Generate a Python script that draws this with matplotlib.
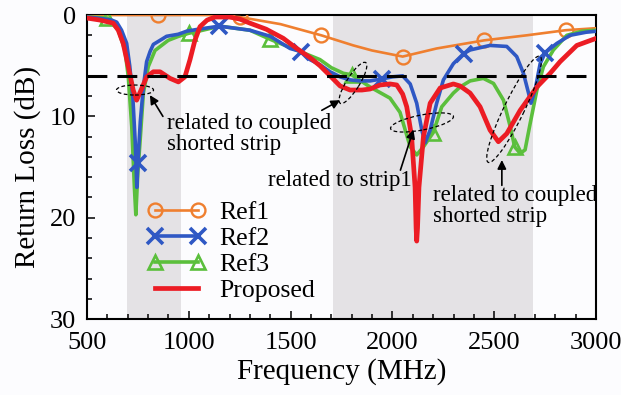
import numpy as np
import matplotlib
matplotlib.use("Agg")
import matplotlib.pyplot as plt
import matplotlib.transforms as mtransforms
from matplotlib.patches import Ellipse
from matplotlib.ticker import MultipleLocator

plt.rcParams['font.family'] = ['Liberation Serif', 'DejaVu Serif']

# ---------------- data ----------------
ref1_f = [500, 850, 1100, 1250, 1450, 1650, 1808, 1900, 2050, 2217, 2450, 2660, 2850, 3000]
ref1_db = [0.0, 0.0, 0.0, 0.2, 0.9, 2.0, 3.0, 3.5, 4.1, 3.3, 2.5, 2.0, 1.5, 1.3]
ref1_mk = [850, 1250, 1650, 2050, 2450, 2850]

ref2_f = [500, 564, 621, 646, 670, 695, 710, 725, 737, 745, 750, 762, 777, 793, 810, 826, 867, 891,
          948, 989, 1047, 1150, 1300, 1400, 1497, 1550, 1595, 1644, 1694, 1743, 1792, 1841, 1890,
          1950, 2000, 2050, 2087, 2119, 2144, 2160, 2185, 2217, 2250, 2299, 2350, 2381, 2479, 2561,
          2610, 2643, 2668, 2680, 2700, 2725, 2750, 2807, 2872, 2950, 3000]
ref2_db = [0.2, 0.33, 0.5, 0.7, 1.5, 2.8, 5.0, 8.0, 12.5, 17.0, 14.6, 10.5, 7.1, 4.6, 3.6, 2.9, 2.4, 2.1,
           1.9, 1.6, 1.4, 1.1, 1.5, 2.1, 3.3, 3.6, 4.4, 4.9, 5.6, 6.1, 6.4, 6.5, 6.5,
           6.3, 6.1, 6.0, 6.8, 8.7, 11.35, 12.6, 11.35, 8.7, 6.4, 4.8, 3.8, 3.45, 3.0, 3.1,
           4.1, 5.75, 7.7, 8.7, 7.4, 4.8, 3.7, 2.8, 2.0, 1.7, 1.6]
ref2_mk = [750, 1150, 1550, 1950, 2350, 2750]

ref3_f = [500, 560, 600, 654, 687, 703, 720, 733, 740, 750, 760, 777, 801, 834, 899, 950, 1000, 1047,
          1153, 1300, 1400, 1497, 1546, 1644, 1700, 1759, 1800, 1890, 1988, 2037, 2087, 2119, 2152,
          2200, 2242, 2299, 2332, 2381, 2446, 2496, 2545, 2578, 2600, 2627, 2651, 2676, 2709, 2741,
          2790, 2856, 2930, 3000]
ref3_db = [0.2, 0.25, 0.3, 1.5, 3.5, 6.1, 11.0, 17.0, 19.7, 15.5, 12.7, 7.7, 5.1, 3.5, 2.5, 2.1, 1.8, 1.6,
           1.1, 1.5, 2.4, 3.2, 3.6, 4.4, 5.2, 5.75, 5.9, 7.1, 8.2, 9.6, 13.0, 13.8, 13.0,
           11.6, 9.05, 7.7, 7.1, 6.5, 6.25, 6.75, 8.4, 11.0, 13.0, 13.65, 13.3, 10.7, 7.4, 5.1,
           3.45, 2.0, 1.6, 1.5]
ref3_mk = [600, 1000, 1400, 1800, 2200, 2600]

prop_f = [500, 564, 629, 654, 678, 703, 727, 744, 768, 793, 826, 859, 908, 949, 981, 1006, 1030, 1055,
          1090, 1129, 1200, 1250, 1300, 1380, 1464, 1530, 1595, 1644, 1694, 1743, 1792, 1850, 1890,
          1939, 1988, 2021, 2050, 2070, 2094, 2111, 2116, 2119, 2123, 2130, 2152, 2185, 2234, 2299,
          2332, 2381, 2430, 2479, 2520, 2561, 2627, 2709, 2774, 2823, 2905, 3000]
prop_db = [0.3, 0.5, 0.8, 1.5, 2.8, 5.1, 7.4, 8.4, 7.3, 6.1, 5.6, 5.6, 6.25, 6.6, 6.1, 4.4, 2.5, 1.15,
           0.5, 0.2, 0.2, 0.4, 0.8, 1.4, 2.3, 3.3, 4.2, 5.0, 6.0, 7.0, 7.4, 7.4, 7.3,
           6.9, 6.8, 6.9, 7.8, 9.05, 12.0, 17.0, 21.0, 22.3, 21.0, 17.0, 12.0, 8.7, 7.2, 6.8,
           7.0, 7.7, 9.05, 11.35, 12.5, 11.7, 9.4, 7.1, 5.75, 4.6, 3.0, 2.3]

bands = [(698, 960), (1710, 2690)]
threshold_db = 6

x_ticks = [500, 1000, 1500, 2000, 2500, 3000]
y_ticks = [0, 10, 20, 30]

# ---------------- figure ----------------
bg = '#fcfcfe'
fig = plt.figure(figsize=(6.21, 3.95), dpi=100, facecolor=bg)
ax = fig.add_axes([0.140, 0.192, 0.820, 0.770])
ax.set_facecolor(bg)

for lo, hi in bands:
    ax.axvspan(lo, hi, color='#e4e2e5', lw=0, zorder=0)


def mk_idx(f, mk):
    return [i for i, v in enumerate(f) if v in mk]


c_or, c_bl, c_gr, c_rd = '#ef7f2f', '#2f58c4', '#5bbf3c', '#ec1c24'

ax.plot(ref1_f, ref1_db, color=c_or, lw=1.9, marker='o', ms=10, mfc='none', mec=c_or, mew=1.7,
        markevery=mk_idx(ref1_f, ref1_mk), label='Ref1', zorder=3)
ax.plot(ref3_f, ref3_db, color=c_gr, lw=2.6, marker='^', ms=10.5, mfc='none', mec=c_gr, mew=1.9,
        markevery=mk_idx(ref3_f, ref3_mk), label='Ref3', zorder=4, solid_joinstyle='round')
ax.plot(ref2_f, ref2_db, color=c_bl, lw=2.6, marker='x', ms=11, mec=c_bl, mew=2.6,
        markevery=mk_idx(ref2_f, ref2_mk), label='Ref2', zorder=5, solid_joinstyle='round')
ax.plot(prop_f, prop_db, color=c_rd, lw=3.4, label='Proposed', zorder=6, solid_joinstyle='round')

ax.axhline(threshold_db, color='k', lw=2.2, ls=(0, (6.5, 3.3)), zorder=7)

ax.set_xlim(500, 3000)
ax.set_ylim(30, 0)
ax.set_xticks(x_ticks)
ax.set_yticks(y_ticks)
ax.xaxis.set_minor_locator(MultipleLocator(100))
ax.yaxis.set_minor_locator(MultipleLocator(2))
ax.tick_params(which='both', direction='in', top=False, right=False, width=1.1, colors='k')
ax.tick_params(which='major', length=6, labelsize=19)
ax.tick_params(axis='x', which='major', pad=9)
ax.tick_params(axis='y', which='major', pad=8)
ax.tick_params(which='minor', length=3.5)
for s in ax.spines.values():
    s.set_linewidth(1.5)

ax.set_xlabel('Frequency (MHz)', fontsize=21, labelpad=3)
ax.set_ylabel('Return Loss (dB)', fontsize=21, labelpad=6)

# ---------------- legend ----------------
h, l = ax.get_legend_handles_labels()
order = [l.index(n) for n in ['Ref1', 'Ref2', 'Ref3', 'Proposed']]
ax.legend([h[i] for i in order], [l[i] for i in order], loc='upper left',
          bbox_to_anchor=(0.118, 0.39), frameon=False, fontsize=18.5, numpoints=2,
          handlelength=2.3, handletextpad=0.5, labelspacing=0.12, borderpad=0,
          borderaxespad=0)


# ---------------- annotations ----------------
def px_ellipse(fx, fy, w, h, ang):
    tr = fig.dpi_scale_trans + mtransforms.ScaledTranslation(fx, fy, ax.transData)
    e = Ellipse((0, 0), w / 100.0, h / 100.0, angle=ang, transform=tr, fill=False,
                ec='k', lw=0.9, ls=(0, (3, 2)), zorder=8, clip_on=False)
    fig.add_artist(e)


px_ellipse(736, 7.4, 37, 10, 0)
px_ellipse(1806, 6.7, 48, 13, 58)
px_ellipse(2145, 10.6, 64, 15, 11)
px_ellipse(2597, 9.3, 118, 20, 64)

arrow_kw = dict(arrowstyle='-|>', color='k', lw=1.2, mutation_scale=13, shrinkA=0, shrinkB=0)
ax.annotate('', xy=(809, 7.9), xytext=(873, 10.0), arrowprops=arrow_kw, zorder=8)
ax.annotate('', xy=(1743, 8.4), xytext=(1653, 9.4), arrowprops=arrow_kw, zorder=8)
ax.annotate('', xy=(2103, 11.3), xytext=(2039, 15.3), arrowprops=arrow_kw, zorder=8)
ax.annotate('', xy=(2537, 14.3), xytext=(2537, 16.8), arrowprops=arrow_kw, zorder=8)

tfs = 16.5
ax.text(893, 11.2, 'related to coupled', fontsize=tfs, ha='left', va='baseline', zorder=9)
ax.text(893, 13.3, 'shorted strip', fontsize=tfs, ha='left', va='baseline', zorder=9)
ax.text(1389, 16.85, 'related to strip1', fontsize=tfs, ha='left', va='baseline', zorder=9)
ax.text(2199, 18.3, 'related to coupled', fontsize=tfs, ha='left', va='baseline', zorder=9)
ax.text(2199, 20.4, 'shorted strip', fontsize=tfs, ha='left', va='baseline', zorder=9)

fig.savefig('out.png', dpi=100, facecolor=bg)
